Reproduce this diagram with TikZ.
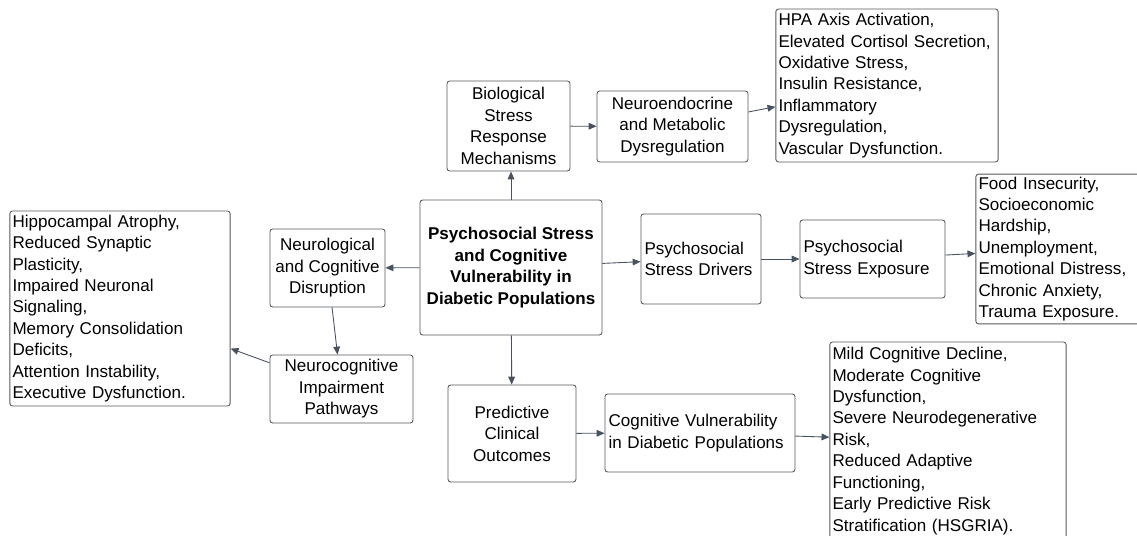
\documentclass[tikz,border=0pt]{standalone}
\usepackage{fontspec}
\setmainfont{Liberation Sans}
\usepackage{tikz}
\usetikzlibrary{arrows.meta}

\definecolor{boxline}{HTML}{55595E}
\definecolor{arrowline}{HTML}{4A5260}

\tikzset{
  box/.style={draw=boxline, line width=0.5pt, rounded corners=1.5pt, align=center,
              inner sep=2pt, font=\fontsize{9.7}{12.2}\selectfont},
  leftbox/.style={box, align=left},
  listbox/.style={box, align=left, inner sep=1.5pt},
  titlebox/.style={box, font=\fontsize{9.7}{12.2}\selectfont\bfseries}
}

\begin{document}
\begin{tikzpicture}[
                x=0.02cm, y=-0.02cm,
                >={Triangle[length=4.5pt,width=3.8pt]}
            ]
            \useasboundingbox (0,0) rectangle (1137,536);

            \node[titlebox, minimum width=3.64cm, minimum height=2.7cm] (main) at (511,267.5)
                {Psychosocial Stress\\and Cognitive\\Vulnerability in\\Diabetic Populations};

            % upper branch
            \node[box, minimum width=2.46cm, minimum height=1.8cm] (bio) at (508.5,126)
                {Biological\\Stress\\Response\\Mechanisms};
            \node[box, minimum width=3.02cm, minimum height=1.42cm] (neuroendo) at (672.5,126.5)
                {Neuroendocrine\\and Metabolic\\Dysregulation};
            \node[listbox, text width=4.34cm, minimum height=3.06cm] (hpa) at (887,85.5)
                {HPA Axis Activation,\\Elevated Cortisol Secretion,\\Oxidative Stress,\\Insulin Resistance,\\Inflammatory\\Dysregulation,\\Vascular Dysfunction.};

            % right branch
            \node[leftbox, text width=2.26cm, minimum height=1.8cm] (drivers) at (701,259)
                {Psychosocial\\Stress Drivers};
            \node[leftbox, text width=2.76cm, minimum height=1.56cm] (exposure) at (872.5,259)
                {Psychosocial\\Stress Exposure};
            \node[listbox, text width=3.18cm, minimum height=2.84cm] (food) at (1058,249)
                {Food Insecurity,\\Socioeconomic\\Hardship,\\Unemployment,\\Emotional Distress,\\Chronic Anxiety,\\Trauma Exposure.};

            % left branch
            \node[box, minimum width=2.3cm, minimum height=1.56cm] (disrupt) at (327.5,268)
                {Neurological\\and Cognitive\\Disruption};
            \node[box, minimum width=2.86cm, minimum height=1.36cm] (pathways) at (341.5,389)
                {Neurocognitive\\Impairment\\Pathways};
            \node[listbox, text width=4.3cm, minimum height=3.9cm] (hippo) at (120,308.5)
                {Hippocampal Atrophy,\\Reduced Synaptic\\Plasticity,\\Impaired Neuronal\\Signaling,\\Memory Consolidation\\Deficits,\\Attention Instability,\\Executive Dysfunction.};

            % lower branch
            \node[box, minimum width=2.56cm, minimum height=1.94cm] (outcomes) at (512,433.5)
                {Predictive\\Clinical\\Outcomes};
            \node[leftbox, text width=3.66cm, minimum height=1.56cm] (cogvul) at (700,433)
                {Cognitive Vulnerability\\in Diabetic Populations};
            \node[listbox, text width=4.62cm, minimum height=3.96cm] (mild) at (948,441)
                {Mild Cognitive Decline,\\Moderate Cognitive\\Dysfunction,\\Severe Neurodegenerative\\Risk,\\Reduced Adaptive\\Functioning,\\Early Predictive Risk\\Stratification (HSGRIA).};

            \begin{scope}[draw=arrowline, line width=0.5pt]
            \draw[->] (main.north) -- (bio.south -| main.north);
            \draw[->] (bio) -- (neuroendo);
            \draw[->] (neuroendo) -- (hpa);
            \draw[->] (main) -- (drivers);
            \draw[->] (drivers) -- (exposure);
            \draw[->] (exposure) -- (food);
            \draw[->] (main) -- (disrupt);
            \draw[->] (disrupt) -- (pathways);
            \draw[->] (pathways) -- (hippo);
            \draw[->] (main) -- (outcomes);
            \draw[->] (outcomes) -- (cogvul);
            \draw[->] (cogvul) -- (mild);
            \end{scope}

        \end{tikzpicture}
\end{document}
